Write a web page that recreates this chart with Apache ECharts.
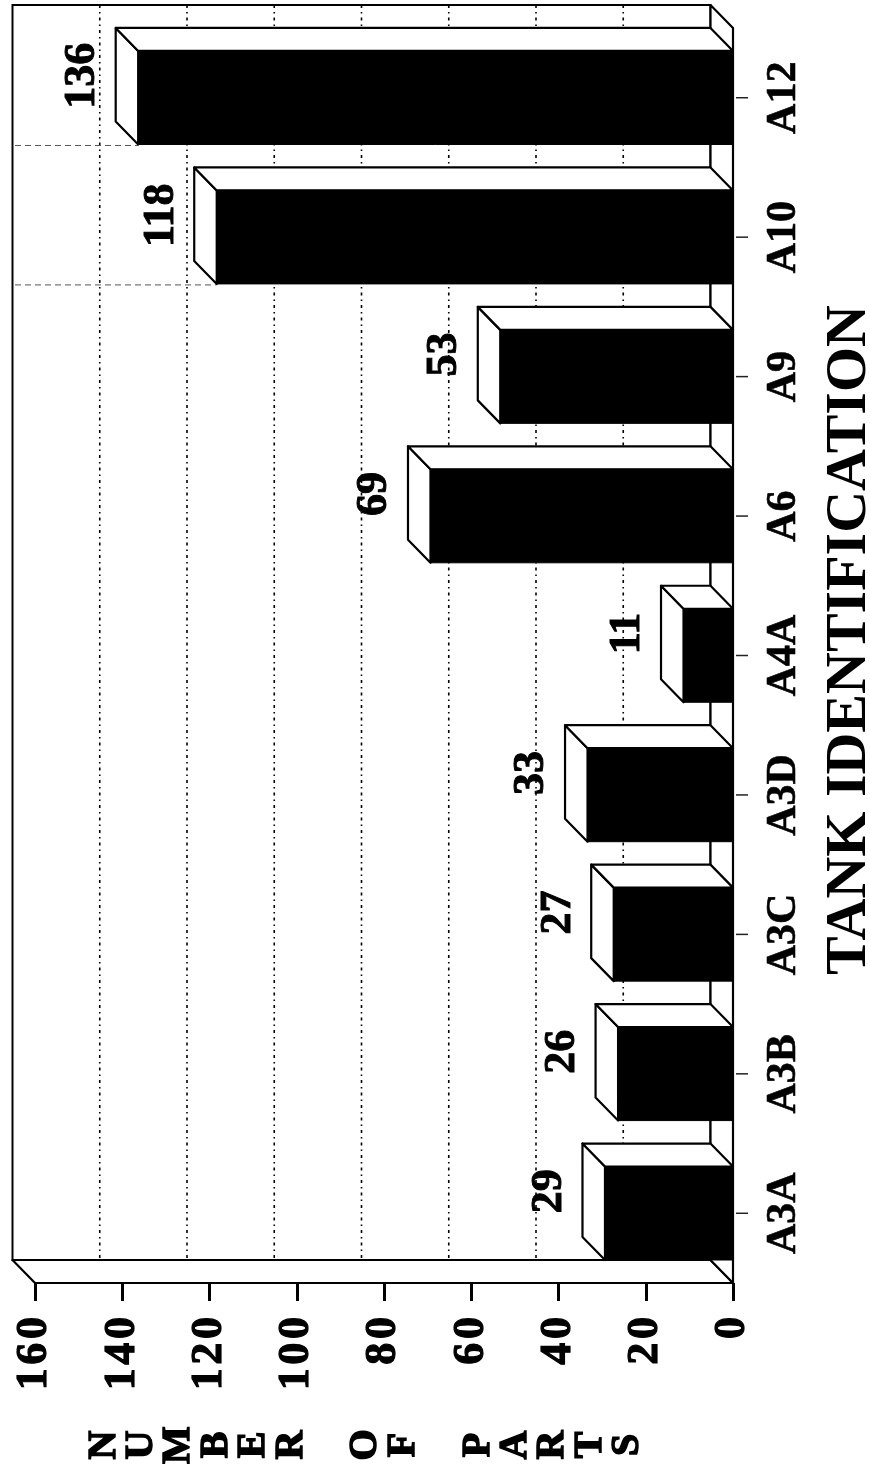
<!DOCTYPE html>
<html><head><meta charset="utf-8">
<style>html,body{margin:0;padding:0;background:#fff}#c{width:870px;height:1464px}</style>
<script src="https://cdn.jsdelivr.net/npm/echarts@6/dist/echarts.min.js"></script>
</head><body><div id="c"></div>
<script>
const categories = ['A3A','A3B','A3C','A3D','A4A','A6','A9','A10','A12'];
const partCounts = [29,26,27,33,11,69,53,118,136];
const gridValues = [20,40,60,80,100,120,140];
const axisTitle = 'NUMBER OF PARTS';
const categoryTitle = 'TANK IDENTIFICATION';

const DX = -22.5, DY = -23, BAR = 93.5;
const chart = echarts.init(document.getElementById('c'), null, {renderer:'canvas'});
const lineStyle = {stroke:'#000', lineWidth:2.2, fill:'#fff', lineJoin:'round'};

function poly(pts, style){ return {type:'polygon', shape:{points:pts}, style:Object.assign({}, lineStyle, style||{})}; }

chart.setOption({
  animation:false,
  backgroundColor:'#fff',
  grid:{left:35, right:137, top:28, bottom:181, containLabel:false},
  xAxis:{type:'value', inverse:true, min:0, max:160, interval:20, position:'bottom',
    axisLine:{show:false},
    axisTick:{show:true, length:18, lineStyle:{color:'#000', width:3}},
    splitLine:{show:false},
    axisLabel:{rotate:90, margin:34, color:'#000', fontFamily:'Liberation Serif', fontWeight:'bold', fontSize:44,
      textBorderColor:'#000', textBorderWidth:1.2,
      formatter:v=>String(v).split('').join('\u200a')}},
  yAxis:{type:'category', data:categories, position:'right',
    axisLine:{show:false},
    axisTick:{show:false},
    axisLabel:{rotate:90, margin:51, color:'#000', fontFamily:'Liberation Serif', fontWeight:'bold', fontSize:42,
      textBorderColor:'#000', textBorderWidth:0.6, align:'center', verticalAlign:'middle'}},
  series:[
   {type:'custom', name:'frame', coordinateSystem:'cartesian2d', silent:true, z:1,
    data:[0], clip:false,
    renderItem:(p,api)=>{
      const c=p.coordSys; const l=c.x, r=c.x+c.width, t=c.y, b=c.y+c.height;
      const bl=l+DX, br=r+DX, bt=t+DY, bb=b+DY;
      const kids=[];
      kids.push({type:'rect', shape:{x:bl,y:bt,width:br-bl,height:bb-bt}, style:{fill:'#fff',stroke:'#000',lineWidth:2}});
      kids.push(poly([[bl,bb],[l,b],[r,b],[br,bb]]));
      kids.push(poly([[br,bt],[r,t],[r,b],[br,bb]]));
      gridValues.forEach(v=>{
        const x=api.coord([v,0])[0]+DX;
        kids.push({type:'line', shape:{x1:x,y1:bt,x2:x,y2:bb}, style:{stroke:'#000',lineWidth:1.6,lineDash:[3,4,1.5,4]}});
      });
      categories.forEach((n,i)=>{
        const y=api.coord([0,i])[1];
        kids.push({type:'line', shape:{x1:r+3,y1:y,x2:r+15,y2:y}, style:{stroke:'#222',lineWidth:1.5}});
      });
      return {type:'group',children:kids};
    }},
   {type:'custom', name:'parts', coordinateSystem:'cartesian2d', silent:true, z:3, clip:false,
    data:partCounts.map((v,i)=>[v,i]), encode:{x:0,y:1},
    renderItem:(p,api)=>{
      const v=api.value(0), i=api.value(1);
      const a=api.coord([v,i]), o=api.coord([0,i]);
      const x=a[0]-1.5, r=o[0], y0=a[1]-BAR/2, y1=a[1]+BAR/2;
      const kids=[];
      if(v>100) kids.push({type:'line',shape:{x1:15,y1:y1+1,x2:x,y2:y1+1},style:{stroke:'#555',lineWidth:1,lineDash:[6,4]}});
      kids.push(
        poly([[x,y0],[x+DX,y0+DY],[x+DX,y1+DY],[x,y1]]),
        poly([[x,y0],[x+DX,y0+DY],[r+DX,y0+DY],[r,y0]]),
        {type:'rect',shape:{x:x,y:y0,width:r-x,height:BAR},style:{fill:'#000',stroke:'#000',lineWidth:1}},
        {type:'text',x:x+DX-33,y:a[1]-22,rotation:Math.PI/2,
         style:{text:String(v),fill:'#000',font:'bold 44px "Liberation Serif"',stroke:'#000',lineWidth:1,align:'center',verticalAlign:'middle'}}
      );
      return {type:'group',children:kids};
    }}
  ],
  graphic:[
    {type:'text', x:850, y:640, rotation:Math.PI/2, z:10,
     style:{text:categoryTitle, fill:'#000', font:'bold 58px "Liberation Serif"', align:'center', verticalAlign:'middle'}},
    {type:'text', x:366, y:1445, rotation:Math.PI/2, z:10,
     style:{text:axisTitle.split('').join('\n'), fill:'#000', stroke:'#000', lineWidth:1.5, font:'bold 40px "Liberation Serif"', lineHeight:37.4, align:'center', verticalAlign:'middle'}}
  ]
});
</script></body></html>
